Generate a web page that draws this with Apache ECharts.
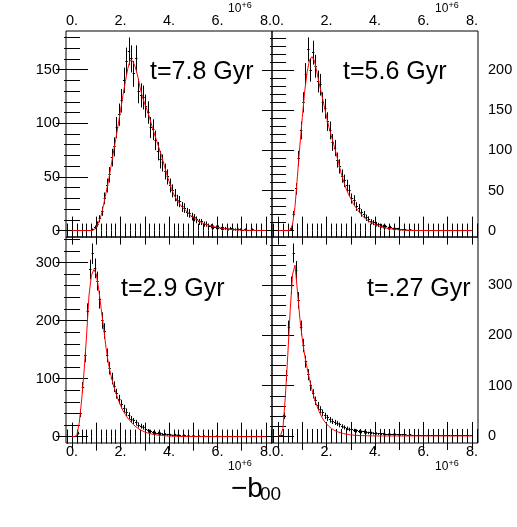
<!DOCTYPE html>
<html>
<head>
<meta charset="utf-8">
<script src="https://cdn.jsdelivr.net/npm/echarts@6/dist/echarts.min.js"></script>
<style>
html, body { margin: 0; padding: 0; background: #fff; }
#chart { width: 517px; height: 527px; }
</style>
</head>
<body>
<div id="chart"></div>
<script>
// histogram bins are 0.1 wide (units of 10^6), first bin centred at 0.05
const binWidth = 0.1
// fit curves sampled every 0.1 from 0 to 8
const fitStep = 0.1

const counts78 = [
  0, 0, 0, 0, 0, 0, 0, 0,
  1, 3, 6, 11, 18, 30, 42, 52, 68, 78,
  96, 108, 121, 140, 158, 167, 160, 146, 160, 130,
  126, 124, 116, 110, 96, 94, 84, 74, 66, 63,
  55, 50, 42, 37, 33, 28, 27, 22, 21, 17,
  16, 13, 12, 10, 8, 8, 6, 6, 4, 4,
  3, 3, 3, 2, 2, 2, 1, 2, 1, 1,
  1, 1, 0, 1, 0, 0, 1, 0, 0, 0, 0, 0
]
const fit78 = [
  0, 0, 0, 0, 0, 0, 0, 0, 0,
  0.8, 3, 8, 14, 24, 35, 46, 59, 72, 85,
  98, 112, 126, 139, 151, 159, 158, 153, 145, 134,
  125, 118, 112, 105, 97, 90, 83, 76, 69, 61,
  53, 46, 39, 33.5, 29.5, 26, 23, 21, 18.5, 16,
  14, 12.3, 10.8, 9.3, 8, 6.9, 6, 5.2, 4.5, 3.9,
  3.4, 3, 2.5, 2.1, 1.8, 1.5, 1.2, 0.9, 0.7, 0.6,
  0.5, 0.4, 0.3, 0.3, 0.2, 0.2, 0.2, 0.1, 0.1, 0.1, 0.1, 0.1
]

const counts56 = [
  0, 0, 0, 0, 0,
  2, 20, 52, 90, 125, 160, 195, 226, 200, 222,
  205, 186, 182, 160, 152, 136, 125, 110, 103, 88,
  80, 68, 62, 56, 50, 40, 38, 30, 28, 22,
  20, 16, 14, 11, 10, 8, 7, 6, 5, 5,
  3, 4, 2, 2, 2, 1, 1, 1, 0, 1,
  0, 0, 0, 0, 0, 0, 0, 0, 0, 0, 0, 0, 0, 0, 0, 0, 0, 0, 0, 0, 0, 0, 0, 0, 0
]
const fit56 = [
  0, 0, 0, 0, 0,
  0.5, 8, 30, 68, 106, 141, 174, 198, 213, 217,
  212, 198, 183, 170, 156, 142, 129, 118, 107, 96,
  84, 72, 62, 53, 46, 40, 34, 29, 25, 21,
  18, 15, 12.5, 10.5, 9, 7.5, 6.3, 5.2, 4.4, 3.7,
  3, 2.5, 2, 1.6, 1.3, 1, 0.8, 0.6, 0.5, 0.4,
  0.3, 0.2, 0.2, 0.1, 0.1, 0.1, 0.1,
  0, 0, 0, 0, 0, 0, 0, 0, 0, 0, 0, 0, 0, 0, 0, 0, 0, 0, 0
]

const counts29 = [
  0, 0,
  6, 40, 85, 140, 215, 288, 315, 290, 268, 236,
  200, 182, 140, 118, 100, 86, 74, 64, 56, 48,
  42, 36, 30, 27, 24, 20, 18, 16, 12, 10,
  9, 7, 6, 6, 5, 4, 4, 3, 3, 2,
  3, 2, 2, 1, 2, 1, 1, 1, 1, 0,
  1, 0, 1, 0, 1, 0, 0, 1, 0, 0,
  0, 0, 0, 0, 0, 0, 0, 0, 0, 0, 0, 0, 0, 0, 0, 0, 0, 0
]
const fit29 = [
  0, 0,
  2, 25, 65, 115, 175, 244, 278, 288, 280, 254,
  221, 188, 154, 126, 106, 90, 76, 64, 54, 45,
  38, 32, 27, 22, 18, 15, 12, 10, 8, 6.5,
  5.3, 4.3, 3.5, 2.8, 2.3, 1.8, 1.5, 1.2, 1.0, 0.8,
  0.6, 0.5, 0.4, 0.3, 0.3, 0.2, 0.2, 0.2, 0.1, 0.1,
  0.1, 0.1, 0.1,
  0, 0, 0, 0, 0, 0, 0, 0, 0, 0, 0, 0, 0, 0, 0, 0, 0, 0, 0, 0, 0, 0, 0, 0, 0, 0
]

const counts27 = [
  0, 0,
  40, 120, 215, 300, 364, 330, 270, 215, 180, 148,
  122, 100, 84, 70, 60, 52, 46, 40, 36, 32,
  29, 27, 25, 22, 19, 17, 15, 13, 12, 11,
  10, 9, 8, 8, 7, 6, 6, 5, 5, 4,
  4, 4, 3, 3, 3, 3, 3, 2, 2, 2,
  2, 1, 2, 1, 1, 1, 1, 1, 0, 1,
  0, 1, 0, 1, 0, 0, 1, 0, 0, 0, 0, 0, 0, 0, 0, 0, 0, 0
]
const fit27 = [
  0, 0,
  15, 78, 160, 250, 322, 340, 288, 234, 193, 160,
  135, 112, 92, 74, 60, 48, 38, 30, 24, 19,
  15, 12, 9.5, 7.5, 6, 4.7, 3.7, 2.9, 2.2, 1.7,
  1.3, 1, 0.8, 0.6, 0.5, 0.4, 0.3, 0.2, 0.2, 0.1,
  0.1, 0.1,
  0, 0, 0, 0, 0, 0, 0, 0, 0, 0, 0, 0, 0, 0, 0, 0, 0, 0, 0, 0, 0, 0, 0, 0, 0, 0, 0, 0, 0, 0, 0, 0, 0, 0, 0, 0, 0
]

// tick labels
const xLabelValues = [0, 2, 4, 6, 8]
const xMajorValues = [0, 1, 2, 3, 4, 5, 6, 7, 8]
const yLabels78 = [0, 50, 100, 150]
const yLabels56 = [0, 50, 100, 150, 200]
const yLabels29 = [0, 100, 200, 300]
const yLabels27 = [0, 100, 200, 300]

const xMinorValues = []
for (let i = -1; i <= 41; i++) xMinorValues.push(+(i * 0.2).toFixed(1))

const FONT = 'Liberation Sans, Arial, Helvetica, sans-serif'
const PW = 206
const PH = 206

const panels = [
  { text: 't=7.8 Gyr', counts: counts78, fit: fit78, yMin: -6, yMax: 186, yLabels: yLabels78, yMinorStep: 10, left: 66, top: 31, xSide: 'top', ySide: 'left', tx: 150, ty: 75 },
  { text: 't=5.6 Gyr', counts: counts56, fit: fit56, yMin: -8, yMax: 249, yLabels: yLabels56, yMinorStep: 10, left: 272, top: 31, xSide: 'top', ySide: 'right', tx: 343, ty: 75 },
  { text: 't=2.9 Gyr', counts: counts29, fit: fit29, yMin: -11, yMax: 344, yLabels: yLabels29, yMinorStep: 20, left: 66, top: 237, xSide: 'bottom', ySide: 'left', tx: 121, ty: 292 },
  { text: 't=.27 Gyr', counts: counts27, fit: fit27, yMin: -14, yMax: 396, yLabels: yLabels27, yMinorStep: 20, left: 272, top: 237, xSide: 'bottom', ySide: 'right', tx: 367, ty: 292 }
]

function makeX (gi, pos, ticks, len, labels) {
  return {
    type: 'value', gridIndex: gi, position: pos, min: -0.25, max: 8.25,
    axisLine: { show: false }, splitLine: { show: false },
    axisTick: { show: true, inside: true, length: len, customValues: ticks, lineStyle: { color: '#000', width: 1 } },
    axisLabel: {
      show: labels, customValues: xLabelValues, formatter: v => v + '.',
      margin: pos === 'top' ? 3 : 1, color: '#000', fontSize: 14.5, fontFamily: FONT
    }
  }
}

function makeY (gi, p, pos, ticks, len, labels) {
  return {
    type: 'value', gridIndex: gi, position: pos, min: p.yMin, max: p.yMax,
    axisLine: { show: false }, splitLine: { show: false },
    axisTick: { show: true, inside: true, length: len, customValues: ticks, lineStyle: { color: '#000', width: 1 } },
    axisLabel: {
      show: labels, customValues: p.yLabels, formatter: v => String(v),
      margin: pos === 'left' ? 6 : 10, color: '#000', fontSize: 14.5, fontFamily: FONT
    }
  }
}

const crisp = v => Math.round(v - 0.5) + 0.5

// ROOT "E" style: a bin-wide horizontal bar plus a vertical sqrt(N) error bar
function renderBin (params, api) {
  const x = api.value(0)
  const c = api.value(1)
  const half = binWidth / 2
  const a = api.coord([x - half, c])
  const b = api.coord([x + half, c])
  const err = Math.sqrt(c)
  const lo = api.coord([x, c - err])
  const hi = api.coord([x, c + err])
  const style = { stroke: '#000', lineWidth: 1 }
  const yy = crisp(a[1])
  const xx = crisp(lo[0])
  return {
    type: 'group',
    children: [
      { type: 'line', shape: { x1: a[0], y1: yy, x2: b[0], y2: yy }, style: style },
      { type: 'line', shape: { x1: xx, y1: lo[1], x2: xx, y2: hi[1] }, style: style }
    ]
  }
}

const grids = []
const xAxes = []
const yAxes = []
const series = []
const graphics = []

panels.forEach((p, i) => {
  grids.push({ left: p.left, top: p.top, width: PW, height: PH, show: true, borderColor: '#000', borderWidth: 1, backgroundColor: 'transparent' })
  ;['bottom', 'top'].forEach(pos => {
    xAxes.push(makeX(i, pos, xMajorValues, 14, pos === p.xSide))
    xAxes.push(makeX(i, pos, xMinorValues, 7, false))
  })
  const yMinor = []
  for (let v = 0; v <= p.yMax; v += p.yMinorStep) yMinor.push(v)
  ;['left', 'right'].forEach(pos => {
    yAxes.push(makeY(i, p, pos, p.yLabels, 16, pos === p.ySide))
    yAxes.push(makeY(i, p, pos, yMinor, 8, false))
  })
  series.push({
    type: 'custom', xAxisIndex: i * 4, yAxisIndex: i * 4,
    silent: true, clip: true, renderItem: renderBin,
    encode: { x: 0, y: 1 },
    data: p.counts.map((c, k) => [(k + 0.5) * binWidth, c])
  })
  series.push({
    type: 'line', xAxisIndex: i * 4, yAxisIndex: i * 4,
    showSymbol: false, silent: true, clip: true,
    lineStyle: { color: '#ff0000', width: 1 },
    data: p.fit.map((v, k) => [k * fitStep, v])
  })
  graphics.push({
    type: 'text', left: p.tx, top: p.ty - 15,
    style: { text: p.text, font: '25px ' + FONT, fill: '#000' }
  })
})

// 10^+6 multipliers
const expPos = [[228, 3], [435, 3], [228, 461], [435, 461]]
expPos.forEach(e => {
  graphics.push({ type: 'text', left: e[0], top: e[1], style: { text: '10', font: '12px ' + FONT, fill: '#000' } })
  graphics.push({ type: 'text', left: e[0] + 13.5, top: e[1] - 2, style: { text: '+6', font: '9px ' + FONT, fill: '#000' } })
})

// axis title
graphics.push({ type: 'text', left: 231, top: 475, style: { text: '\u2212b', font: '28px ' + FONT, fill: '#000' } })
graphics.push({ type: 'text', left: 260, top: 485, style: { text: '00', font: '19px ' + FONT, fill: '#000' } })

const option = {
  animation: false,
  backgroundColor: '#fff',
  grid: grids,
  xAxis: xAxes,
  yAxis: yAxes,
  series: series,
  graphic: graphics
}

const myChart = echarts.init(document.getElementById('chart'))
myChart.setOption(option)
</script>
</body>
</html>
